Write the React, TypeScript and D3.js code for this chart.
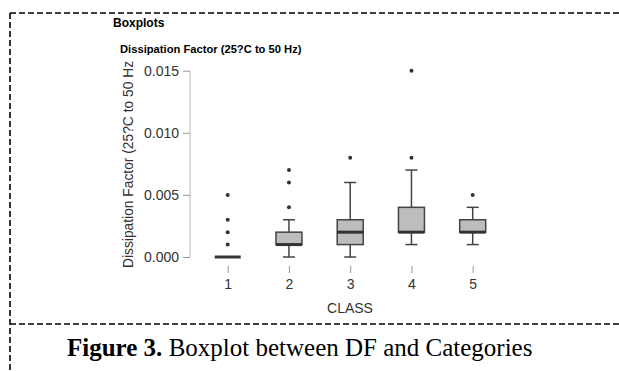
import * as d3 from "d3";
import React, { useRef, useEffect } from "react";

// box plot values per class
const classes = ["1", "2", "3", "4", "5"];
const whiskerLow = [0, 0, 0, 0.001, 0.001];
const q1 = [0, 0.001, 0.001, 0.002, 0.002];
const median = [0, 0.001, 0.002, 0.002, 0.002];
const q3 = [0, 0.002, 0.003, 0.004, 0.003];
const whiskerHigh = [0, 0.003, 0.006, 0.007, 0.004];
const outliers = [
  [0.001, 0.002, 0.003, 0.005],
  [0.004, 0.006, 0.007],
  [0.008],
  [0.008, 0.015],
  [0.005],
];
const yTicks = [0, 0.005, 0.01, 0.015];

const W = 619;
const H = 371;

const App: React.FC = () => {
  const svgRef = useRef<SVGSVGElement | null>(null);

  useEffect(() => {
    const svg = d3.select(svgRef.current).attr("width", W).attr("height", H);
    svg.selectAll("*").remove();

    svg.append("rect").attr("width", W).attr("height", H).attr("fill", "#fff");

    // dashed frame
    const frame = [
      [10, 13, W, 13],
      [10, 324, W, 324],
      [10, 13, 10, H],
    ];
    frame.forEach(([x1, y1, x2, y2]) => {
      svg.append("line").attr("x1", x1).attr("y1", y1).attr("x2", x2).attr("y2", y2)
        .attr("stroke", "#000").attr("stroke-width", 1.6).attr("stroke-dasharray", "6,3");
    });

    const sans = "'Liberation Sans', Arial, sans-serif";

    svg.append("text").attr("x", 113).attr("y", 27)
      .attr("font-family", sans).attr("font-size", 12).attr("font-weight", "bold")
      .text("Boxplots");
    svg.append("text").attr("x", 120).attr("y", 53)
      .attr("font-family", sans).attr("font-size", 11.2).attr("font-weight", "bold")
      .text("Dissipation Factor (25?C to 50 Hz)");

    const y = d3.scaleLinear().domain([0, 0.015]).range([257, 70.7]);
    const x = d3.scalePoint<string>().domain(classes).range([227.7, 472.7]);

    // y axis
    const yAxis = svg.append("g").attr("transform", "translate(190,0)")
      .call(d3.axisLeft(y).tickValues(yTicks).tickSize(7).tickPadding(4).tickFormat(d3.format(".3f")));
    yAxis.select(".domain").attr("stroke", "#bbb").attr("d", `M0,${y(0)}V${y(0.015)}`);
    yAxis.selectAll(".tick line").attr("stroke", "#999");
    yAxis.selectAll(".tick text").attr("font-family", sans).attr("font-size", 14).attr("fill", "#333");

    // x axis (ticks only)
    const xAxis = svg.append("g").attr("transform", "translate(0,266)")
      .call(d3.axisBottom(x).tickSize(7).tickPadding(6));
    xAxis.select(".domain").remove();
    xAxis.selectAll(".tick line").attr("stroke", "#999");
    xAxis.selectAll(".tick text").attr("font-family", sans).attr("font-size", 14).attr("fill", "#333");

    svg.append("text").attr("x", 350).attr("y", 313).attr("text-anchor", "middle")
      .attr("font-family", sans).attr("font-size", 14).attr("fill", "#333").text("CLASS");

    // y title, clipped at top like the original
    svg.append("clipPath").attr("id", "yclip")
      .append("rect").attr("x", 100).attr("y", 61).attr("width", 60).attr("height", 250);
    svg.append("g").attr("clip-path", "url(#yclip)")
      .append("text")
      .attr("transform", "translate(133,268) rotate(-90)")
      .attr("font-family", sans).attr("font-size", 13.8).attr("fill", "#333")
      .text("Dissipation Factor (25?C to 50 Hz)");

    const bw = 26;
    const cap = 10;
    const ink = "#444";
    const g = svg.append("g");
    classes.forEach((c, i) => {
      const cx = x(c)!;
      const b = g.append("g");
      // whiskers
      if (whiskerHigh[i] > q3[i]) {
        b.append("line").attr("x1", cx).attr("x2", cx).attr("y1", y(q3[i])).attr("y2", y(whiskerHigh[i]))
          .attr("stroke", ink).attr("stroke-width", 1.5);
        b.append("line").attr("x1", cx - cap / 2 - 1).attr("x2", cx + cap / 2 + 1)
          .attr("y1", y(whiskerHigh[i])).attr("y2", y(whiskerHigh[i]))
          .attr("stroke", ink).attr("stroke-width", 1.5);
      }
      if (whiskerLow[i] < q1[i]) {
        b.append("line").attr("x1", cx).attr("x2", cx).attr("y1", y(q1[i])).attr("y2", y(whiskerLow[i]))
          .attr("stroke", ink).attr("stroke-width", 1.5);
        b.append("line").attr("x1", cx - cap / 2 - 1).attr("x2", cx + cap / 2 + 1)
          .attr("y1", y(whiskerLow[i])).attr("y2", y(whiskerLow[i]))
          .attr("stroke", ink).attr("stroke-width", 1.5);
      }
      if (q3[i] > q1[i]) {
        b.append("rect").attr("x", cx - bw / 2).attr("width", bw)
          .attr("y", y(q3[i])).attr("height", y(q1[i]) - y(q3[i]))
          .attr("fill", "#bdbdbd").attr("stroke", ink).attr("stroke-width", 1.5);
      }
      b.append("line").attr("x1", cx - bw / 2).attr("x2", cx + bw / 2)
        .attr("y1", y(median[i])).attr("y2", y(median[i]))
        .attr("stroke", "#333").attr("stroke-width", 3);
      b.selectAll("circle").data(outliers[i]).enter().append("circle")
        .attr("cx", cx).attr("cy", (d) => y(d)).attr("r", 2).attr("fill", "#333");
    });

    // caption
    const caption = svg.append("text").attr("x", 67).attr("y", 356)
      .attr("font-family", "'Liberation Serif', 'Times New Roman', serif").attr("font-size", 25);
    caption.append("tspan").attr("font-weight", "bold").text("Figure 3.");
    caption.append("tspan").text(" Boxplot between DF and Categories");
  }, []);

  return <svg ref={svgRef} style={{ position: "absolute", left: 0, top: 0 }}></svg>;
};

export default App;
